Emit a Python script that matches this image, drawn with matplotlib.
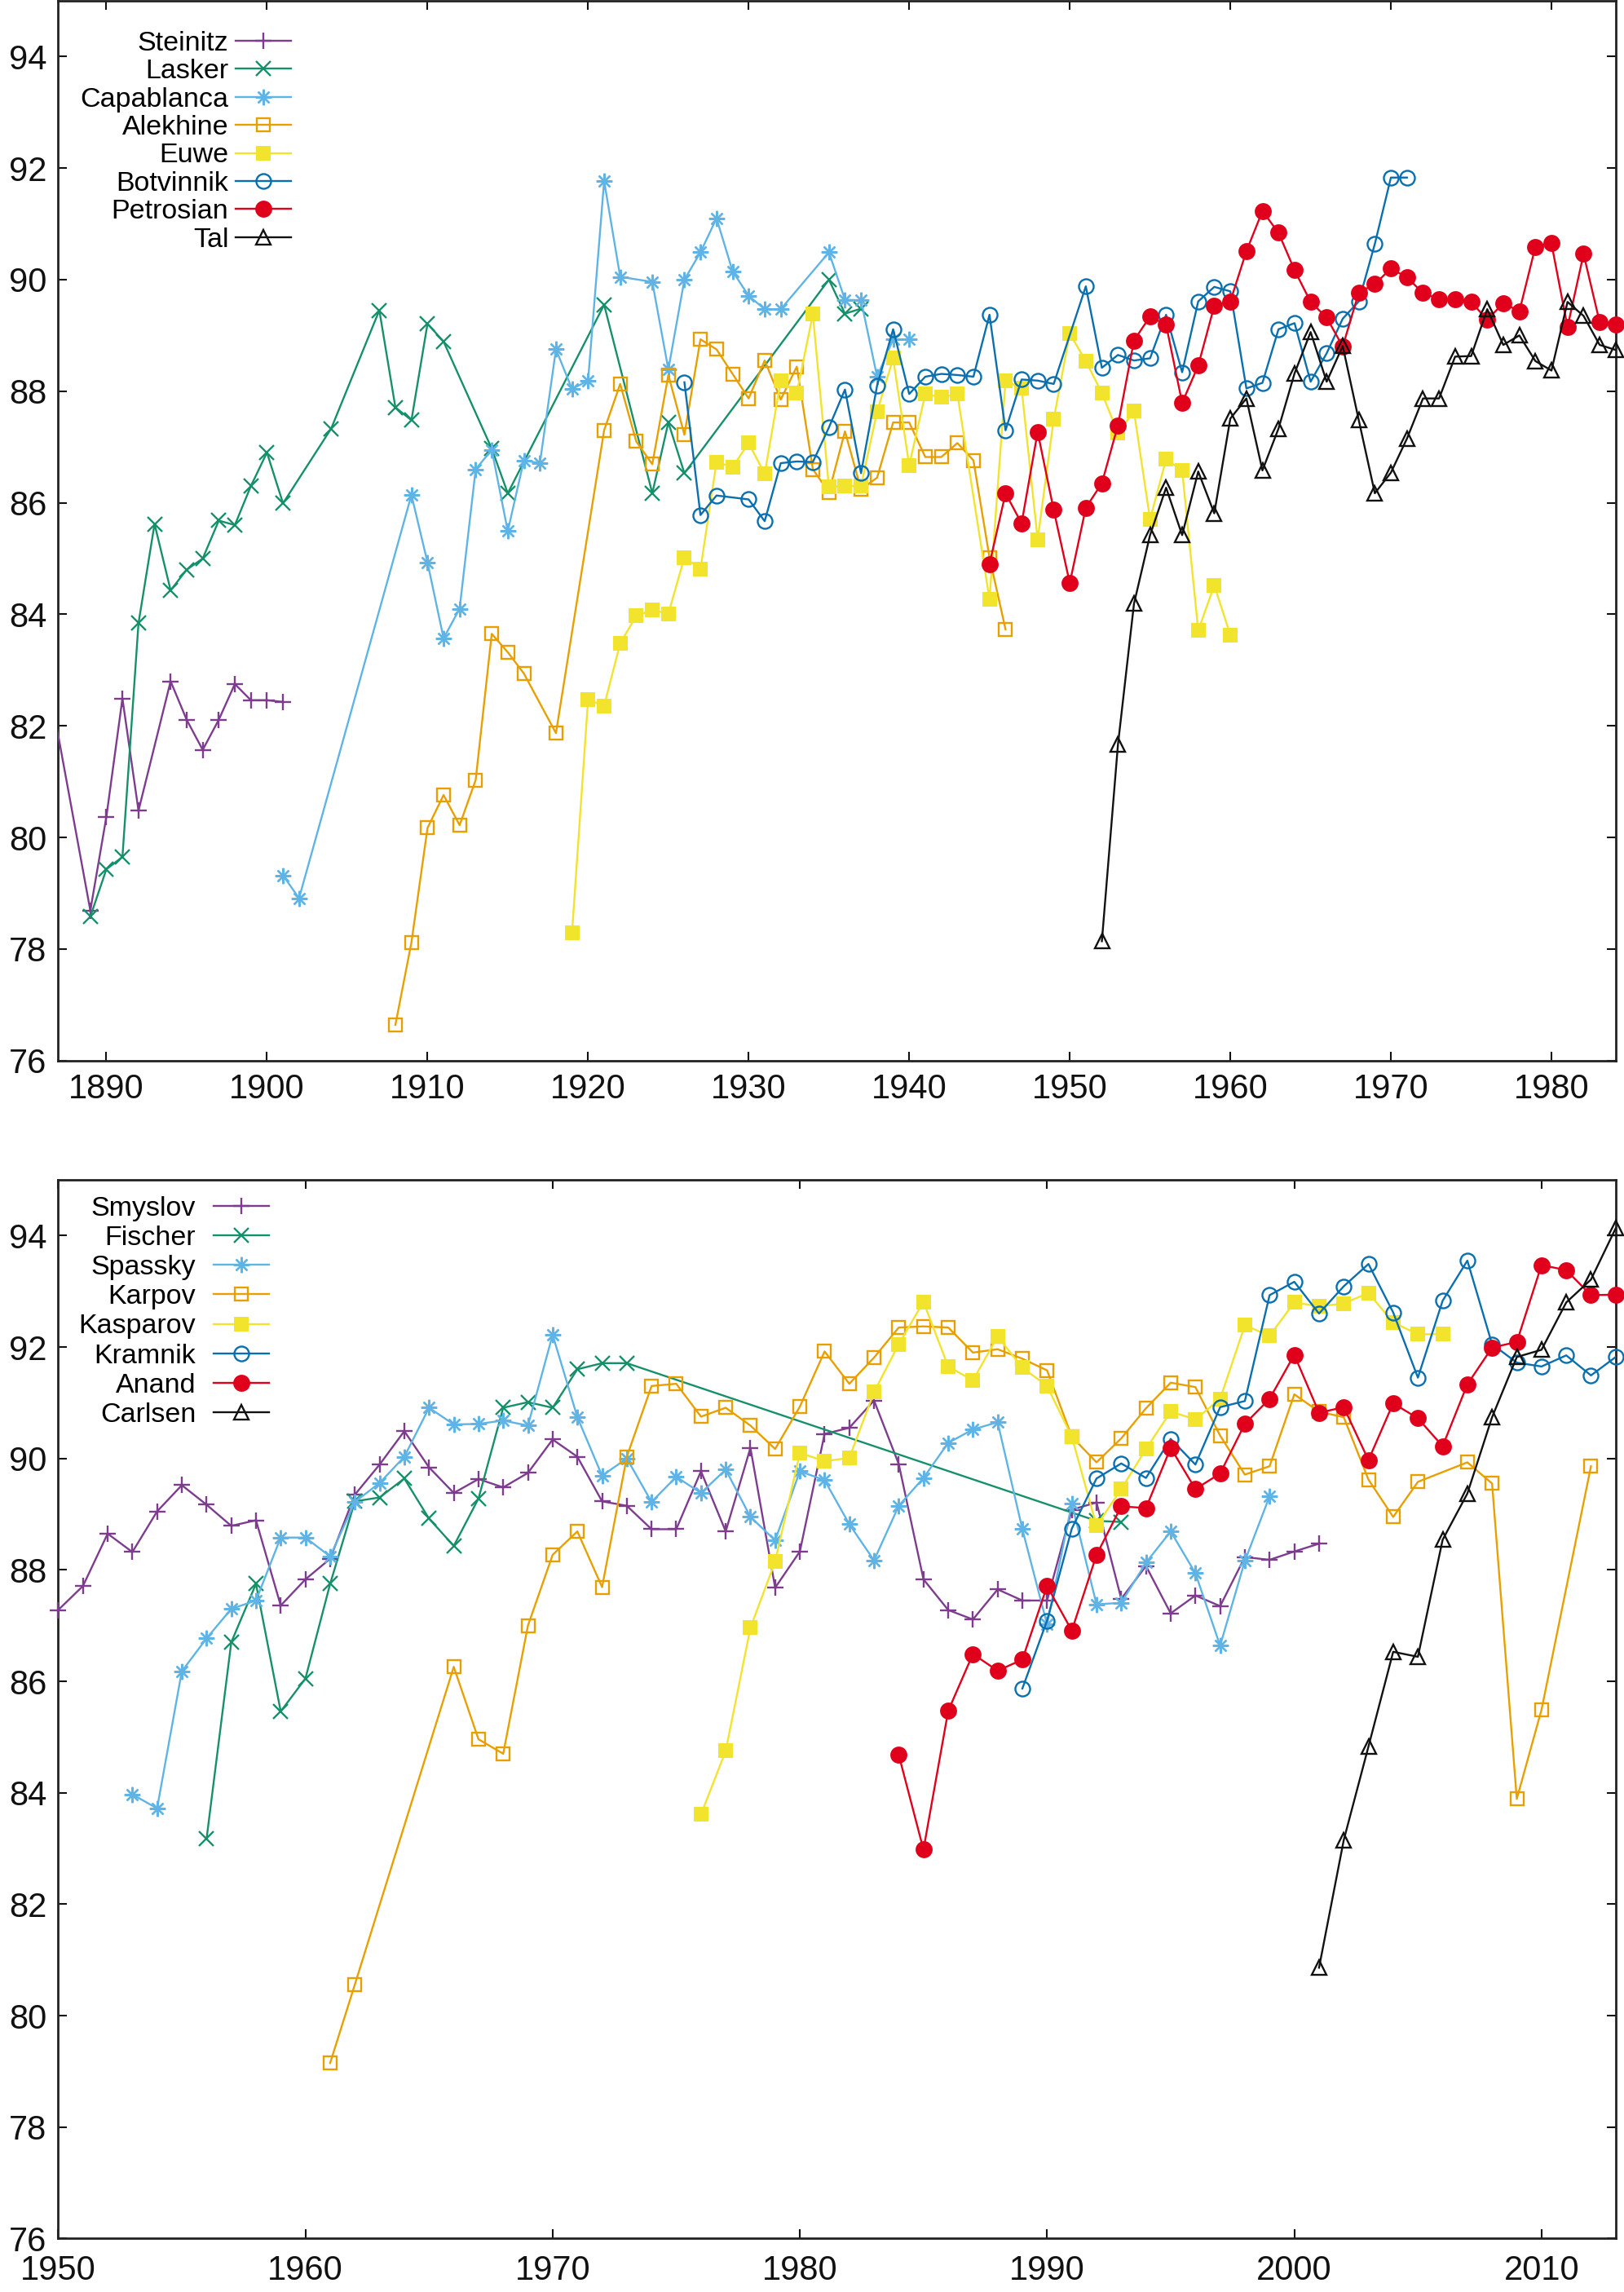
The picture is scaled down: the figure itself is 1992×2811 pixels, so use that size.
import numpy as np
import matplotlib
matplotlib.use("Agg")
import matplotlib.pyplot as plt
from matplotlib.lines import Line2D

plt.rcParams['font.family'] = ['Liberation Sans', 'DejaVu Sans']

# ---- top panel data ----
steinitz_years = [1886, 1889, 1890, 1891, 1892, 1894, 1895, 1896, 1897, 1898, 1899, 1900, 1901]
steinitz = [83.4, 78.69, 80.37, 82.49, 80.48, 82.80, 82.11, 81.57, 82.11, 82.75, 82.46, 82.46, 82.43]

lasker_years = [1889, 1890, 1891, 1892, 1893, 1894, 1895, 1896, 1897, 1898, 1899, 1900, 1901,
                1904, 1907, 1908, 1909, 1910, 1911, 1914, 1915, 1921, 1924, 1925, 1926, 1935, 1936, 1937]
lasker = [78.58, 79.43, 79.65, 83.84, 85.62, 84.43, 84.80, 85.00, 85.68, 85.60, 86.30, 86.90, 85.99,
          87.33, 89.45, 87.71, 87.48, 89.21, 88.89, 86.97, 86.17, 89.55, 86.17, 87.44, 86.53, 90.00, 89.39, 89.48]

capablanca_years = [1901, 1902, 1909, 1910, 1911, 1912, 1913, 1914, 1915, 1916, 1917, 1918, 1919, 1920,
                    1921, 1922, 1924, 1925, 1926, 1927, 1928, 1929, 1930, 1931, 1932, 1935, 1936, 1937,
                    1938, 1939, 1940]
capablanca = [79.32, 78.91, 86.14, 84.93, 83.57, 84.10, 86.60, 86.95, 85.49, 86.76, 86.71, 88.75, 88.04, 88.19,
              91.77, 90.05, 89.96, 88.39, 90.00, 90.49, 91.10, 90.15, 89.71, 89.47, 89.47, 90.49, 89.64, 89.63,
              88.26, 88.93, 88.93]

alekhine_years = [1908, 1909, 1910, 1911, 1912, 1913, 1914, 1915, 1916, 1918] + list(range(1921, 1947))
alekhine = [76.64, 78.12, 80.17, 80.76, 80.22, 81.03, 83.65, 83.32, 82.94, 81.87,
            87.30, 88.13, 87.10, 86.69, 88.29, 87.22, 88.93, 88.75, 88.31, 87.87, 88.55, 87.85, 88.44,
            86.60, 86.19, 87.28, 86.24, 86.45, 87.44, 87.44, 86.82, 86.82, 87.07, 86.76, 85.02, 83.73]

euwe_years = list(range(1919, 1944)) + list(range(1945, 1961))
euwe = [78.29, 82.47, 82.36, 83.48, 83.97, 84.08, 84.01, 85.02, 84.81,
        86.73, 86.64, 87.07, 86.52, 88.19, 87.97, 89.38, 86.28, 86.30, 86.30, 87.63, 88.59, 86.67,
        87.95, 87.89, 87.95,
        84.27, 88.19, 88.05, 85.34, 87.50, 89.03, 88.54, 87.97, 87.25, 87.64, 85.70, 86.78, 86.58,
        83.71, 84.52, 83.63]

botvinnik_years = [1926, 1927, 1928] + list(range(1930, 1950)) + list(range(1951, 1972))
botvinnik = [88.16, 85.78, 86.13,
             86.06, 85.67, 86.71, 86.74, 86.73, 87.35, 88.03, 86.53, 88.10, 89.11, 87.95, 88.26, 88.31,
             88.29, 88.26, 89.37, 87.30, 88.21, 88.19, 88.13,
             89.88, 88.42, 88.65, 88.55, 88.59, 89.37, 88.34, 89.61, 89.87, 89.79, 88.05, 88.15, 89.11,
             89.22, 88.17, 88.68, 89.30, 89.61, 90.64, 91.83, 91.83]

petrosian_years = list(range(1945, 1985))
petrosian = [84.90, 86.17, 85.63, 87.27, 85.87, 84.56, 85.91, 86.35, 87.39, 88.91,
             89.34, 89.19, 87.79, 88.46, 89.53, 89.61, 90.51, 91.23, 90.84, 90.17,
             89.60, 89.32, 88.80, 89.77, 89.92, 90.20, 90.04, 89.76, 89.65, 89.65,
             89.60, 89.28, 89.58, 89.43, 90.59, 90.65, 89.15, 90.46, 89.24, 89.19]

tal_years = list(range(1952, 1985))
tal = [78.14, 81.66, 84.19, 85.42, 86.27, 85.42, 86.56, 85.81, 87.51, 87.87,
       86.58, 87.33, 88.32, 89.06, 88.17, 88.81, 87.48, 86.17, 86.54, 87.15,
       87.87, 87.87, 88.62, 88.63, 89.47, 88.83, 89.00, 88.54, 88.37, 89.60,
       89.35, 88.83, 88.74]

# ---- bottom panel data ----
smyslov_years = list(range(1950, 2002))
smyslov = [87.28, 87.71, 88.65, 88.32, 89.05, 89.52, 89.17, 88.79, 88.89, 87.36,
           87.83, 88.20, 89.35, 89.89, 90.49, 89.84, 89.38, 89.63, 89.48, 89.74,
           90.34, 90.03, 89.23, 89.15, 88.73, 88.73, 89.77, 88.69, 90.19, 87.68,
           88.33, 90.44, 90.55, 91.04, 89.90, 87.83, 87.28, 87.11, 87.65, 87.45,
           87.45, 89.08, 89.21, 87.48, 88.07, 87.22, 87.54, 87.35, 88.23, 88.18,
           88.33, 88.47]

fischer_years = list(range(1956, 1974)) + [1992, 1993]
fischer = [83.17, 86.70, 87.75, 85.46, 86.05, 87.75, 89.23, 89.30, 89.64, 88.92,
           88.43, 89.28, 90.91, 91.01, 90.91, 91.60, 91.71, 91.71, 88.88, 88.86]

spassky_years = list(range(1953, 2000))
spassky = [83.97, 83.72, 86.18, 86.77, 87.30, 87.45, 88.58, 88.58, 88.24, 89.22,
           89.56, 90.03, 90.91, 90.61, 90.62, 90.68, 90.59, 92.22, 90.74, 89.69,
           90.00, 89.22, 89.67, 89.38, 89.80, 88.95, 88.53, 89.77, 89.61, 88.82,
           88.17, 89.15, 89.65, 90.28, 90.52, 90.65, 88.73, 87.02, 89.19, 87.38,
           87.41, 88.13, 88.69, 87.94, 86.64, 88.16, 89.32]

karpov_years = [1961, 1962] + list(range(1966, 2006)) + [2007, 2008, 2009, 2010, 2012]
karpov = [79.15, 80.56,
          86.26, 84.96, 84.70, 87.00, 88.27, 88.69, 87.69, 90.03, 91.30, 91.34,
          90.75, 90.91, 90.59, 90.17, 90.93, 91.92, 91.34, 91.81, 92.35, 92.37,
          92.35, 91.90, 91.96, 91.79, 91.58, 90.39, 89.93, 90.36, 90.90, 91.36,
          91.28, 90.41, 89.71, 89.86, 91.15, 90.84, 90.74, 89.62, 88.95, 89.58,
          89.93, 89.55, 83.89, 85.49, 89.86]

kasparov_years = list(range(1976, 2007))
kasparov = [83.61, 84.75, 86.96, 88.15, 90.10, 89.95, 90.01, 91.19, 92.05, 92.81,
            91.65, 91.40, 92.19, 91.63, 91.30, 90.39, 88.79, 89.45, 90.17, 90.84,
            90.70, 91.07, 92.39, 92.20, 92.80, 92.73, 92.78, 92.97, 92.44, 92.23, 92.23]

kramnik_years = list(range(1989, 2014))
kramnik = [85.87, 87.09, 88.74, 89.64, 89.91, 89.65, 90.35, 89.89, 90.92, 91.03,
           92.93, 93.17, 92.60, 93.09, 93.49, 92.62, 91.45, 92.83, 93.55, 92.05,
           91.72, 91.65, 91.85, 91.49, 91.82]

anand_years = list(range(1984, 2014))
anand = [84.68, 82.98, 85.47, 86.49, 86.19, 86.39, 87.71, 86.91, 88.27, 89.14,
         89.11, 90.19, 89.45, 89.73, 90.62, 91.07, 91.86, 90.82, 90.92, 89.97,
         90.99, 90.72, 90.22, 91.33, 91.99, 92.09, 93.47, 93.38, 92.93, 92.94]

carlsen_years = list(range(2001, 2014))
carlsen = [80.86, 83.15, 84.83, 86.53, 86.44, 88.54, 89.37, 90.74, 91.82, 91.95,
           92.80, 93.21, 94.13]

# ---- styles (gnuplot-like) ----
colors = ['#7d3c8e', '#16906a', '#5fb4e5', '#e8a000', '#f2e32c', '#0a6fae', '#e0001b', '#111111']
styles = [
    dict(marker='+', ms=14, mfc='none'),
    dict(marker='x', ms=13, mfc='none'),
    dict(marker=(8, 2, 0), ms=14, mfc='none'),
    dict(marker='s', ms=12, mfc='none'),
    dict(marker='s', ms=13.5, mfc='fill'),
    dict(marker='o', ms=13, mfc='none'),
    dict(marker='o', ms=15, mfc='fill'),
    dict(marker='^', ms=13, mfc='none'),
]
LW = 1.7

top_series = [("Steinitz", steinitz_years, steinitz), ("Lasker", lasker_years, lasker),
              ("Capablanca", capablanca_years, capablanca), ("Alekhine", alekhine_years, alekhine),
              ("Euwe", euwe_years, euwe), ("Botvinnik", botvinnik_years, botvinnik),
              ("Petrosian", petrosian_years, petrosian), ("Tal", tal_years, tal)]
bottom_series = [("Smyslov", smyslov_years, smyslov), ("Fischer", fischer_years, fischer),
                 ("Spassky", spassky_years, spassky), ("Karpov", karpov_years, karpov),
                 ("Kasparov", kasparov_years, kasparov), ("Kramnik", kramnik_years, kramnik),
                 ("Anand", anand_years, anand), ("Carlsen", carlsen_years, carlsen)]


def draw_panel(ax, series, xlim, xticks, leg_anchor, textpad, spacing, xpad):
    ax.set_xlim(*xlim)
    ax.set_ylim(76, 95)
    handles = []
    for i, (name, yrs, vals) in enumerate(series):
        c = colors[i]
        st = styles[i]
        mfc = c if st['mfc'] == 'fill' else 'none'
        mew = 0 if st['mfc'] == 'fill' else LW
        yrs = np.array(yrs)
        vals = np.array(vals)
        ax.plot(yrs, vals, color=c, lw=LW, zorder=3 + i * 0.1)
        inside = (yrs >= xlim[0]) & (yrs <= xlim[1])
        ax.plot(yrs[inside], vals[inside], ls='none', marker=st['marker'], ms=st['ms'],
                mfc=mfc, mec=c, mew=mew, color=c, clip_on=False, zorder=3.05 + i * 0.1)
        handles.append(Line2D([], [], color=c, lw=LW, marker=st['marker'], ms=st['ms'],
                              mfc=mfc, mec=c, mew=mew))
    ax.set_xticks(xticks)
    ax.set_yticks(np.arange(76, 95, 2))
    ax.tick_params(direction='in', length=8, width=1.5, top=True, right=True,
                   labelsize=30, pad=10, colors='#111111')
    ax.tick_params(axis='x', pad=xpad)
    for sp in ax.spines.values():
        sp.set_linewidth(2.0)
        sp.set_color('#222222')
    ax.legend(handles, [s[0] for s in series], loc='upper right', bbox_to_anchor=leg_anchor,
              bbox_transform=ax.transAxes, frameon=False, markerfirst=False, numpoints=1,
              handlelength=2.0, handletextpad=textpad, labelspacing=spacing, borderpad=0,
              borderaxespad=0, fontsize=24.5)


W, H = 1992, 2811
fig = plt.figure(figsize=(W / 100, H / 100), dpi=100)
ax1 = fig.add_axes([71.4 / W, 1 - 1300.7 / H, 1910.4 / W, 1299.8 / H])
ax2 = fig.add_axes([71.4 / W, 1 - 2745.4 / H, 1910.4 / W, 1298.4 / H])

draw_panel(ax1, top_series, (1887, 1984), np.arange(1890, 1990, 10), (0.1495, 0.9716), 0.25, 0.10, 11)
draw_panel(ax2, bottom_series, (1950, 2013), np.arange(1950, 2020, 10), (0.1354, 0.9846), 0.64, 0.15, 14)

fig.savefig('out.png', dpi=100)
